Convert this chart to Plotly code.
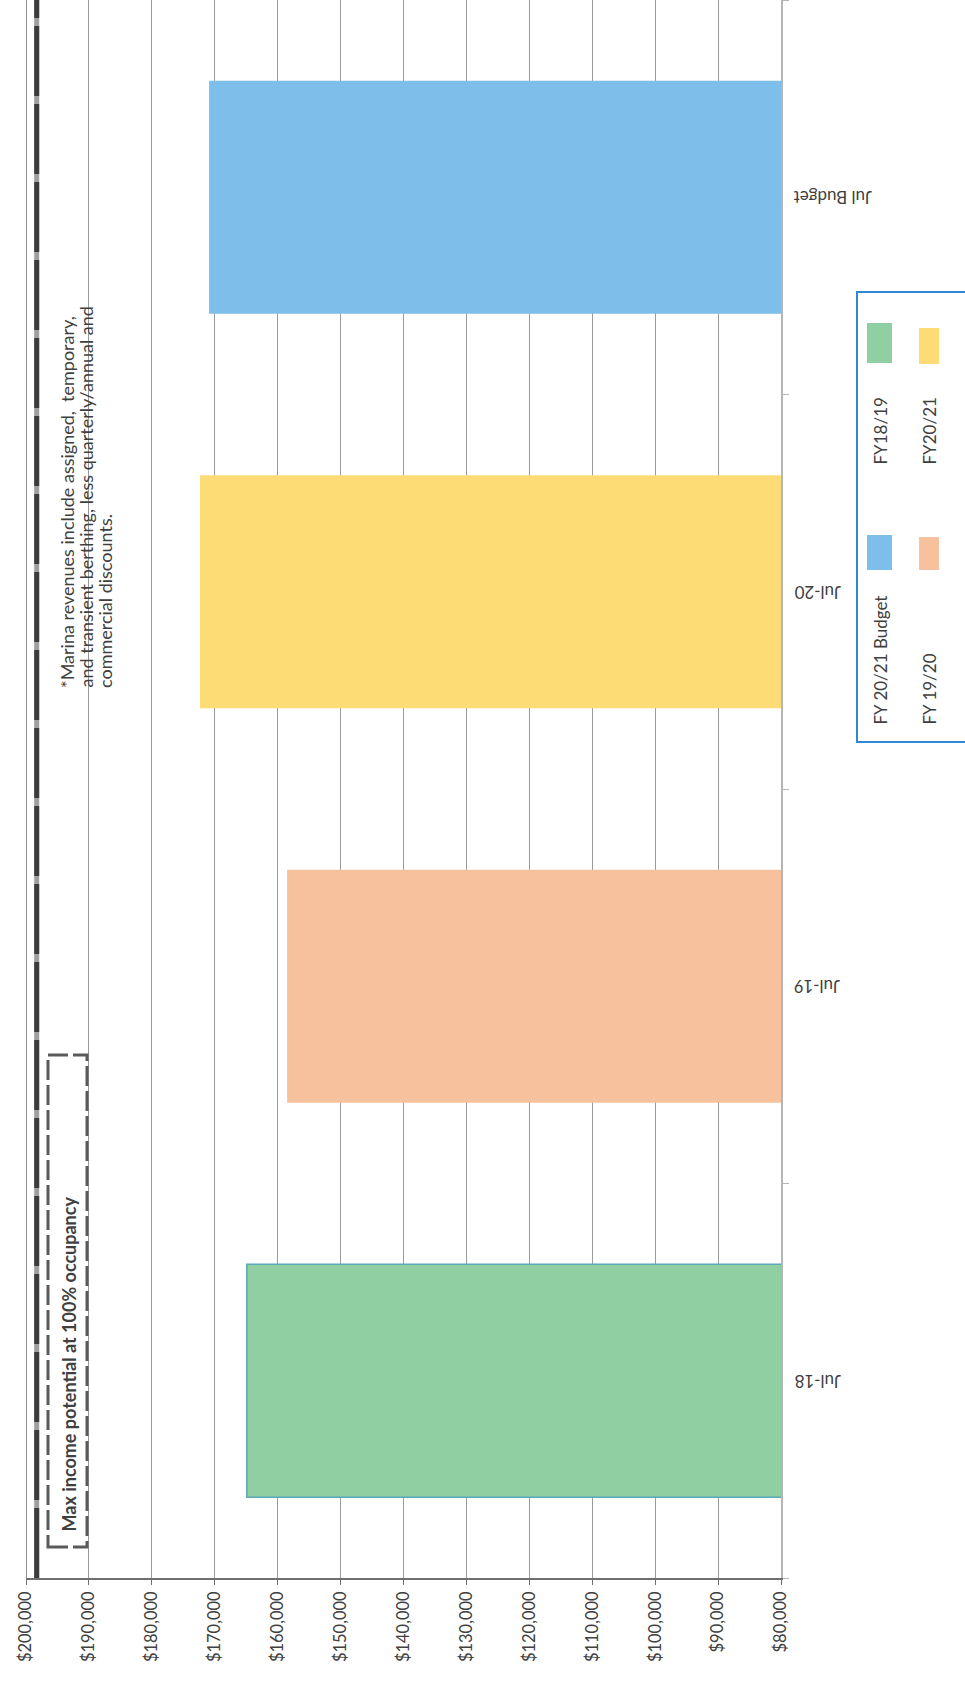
import plotly.graph_objects as go

# ---- data ----
categories = ["Jul-18", "Jul-19", "Jul-20", "Jul Budget"]
values = [164900, 158500, 172350, 170900]
bar_colors = ["#8fcfa1", "#f8c19d", "#fddc76", "#7dbeea"]
series_labels = ["FY18/19", "FY 19/20", "FY20/21", "FY 20/21 Budget"]
tick_values = [200000, 190000, 180000, 170000, 160000, 150000, 140000,
               130000, 120000, 110000, 100000, 90000, 80000]
max_income = 198300
max_note = "Max income potential at 100% occupancy"
footnote_lines = ["*Marina revenues include assigned,  temporary,",
                  "and transient berthing, less quarterly/annual and",
                  "commercial discounts."]

W, H = 965, 1684
L, R, T, B = 26, 184, 0, 106
PW = W - L - R
PH = H - T - B


def px(x):
    return (x - L) / PW


def py(y):
    return (H - B - y) / PH


FONT = "Lato, 'Open Sans', sans-serif"
TXT = "#404040"

fig = go.Figure()
fig.add_trace(go.Bar(
    y=categories, x=values, orientation="h",
    marker=dict(color=bar_colors,
                line=dict(color=["#5aa8b8", "rgba(0,0,0,0)", "rgba(0,0,0,0)", "rgba(0,0,0,0)"], width=1.5)),
    showlegend=False, hoverinfo="skip",
))

shapes = []
# max income potential line
shapes.append(dict(type="line", xref="x", yref="paper", x0=max_income, x1=max_income,
                   y0=0, y1=1, line=dict(color="#a0a0a0", width=5), layer="above"))
shapes.append(dict(type="line", xref="x", yref="paper", x0=max_income, x1=max_income,
                   y0=0, y1=1, line=dict(color="#3c3c3c", width=5, dash="70px,8px"), layer="above"))
# left edge line
shapes.append(dict(type="line", xref="x", yref="paper", x0=200000, x1=200000,
                   y0=0, y1=1, line=dict(color="#6a6a6a", width=1.5), layer="above"))
# max income note box
shapes.append(dict(type="rect", xref="paper", yref="paper",
                   x0=px(48), x1=px(87), y0=py(1547), y1=py(1055),
                   line=dict(color="#5a5a5a", width=3, dash="20px,5px"),
                   fillcolor="white", layer="above"))

# legend box
shapes.append(dict(type="rect", xref="paper", yref="paper",
                   x0=px(857), x1=px(980), y0=py(742), y1=py(292),
                   line=dict(color="#2f8ad6", width=2), fillcolor="white"))
swatches = {
    "FY 20/21 Budget": (867, 892, 535, 570),
    "FY18/19": (867, 892, 323, 363),
    "FY 19/20": (919, 939, 537, 570),
    "FY20/21": (919, 939, 328, 364),
}
for lab, col in zip(series_labels, bar_colors):
    x0, x1, y0, y1 = swatches[lab]
    shapes.append(dict(type="rect", xref="paper", yref="paper",
                       x0=px(x0), x1=px(x1), y0=py(y1), y1=py(y0),
                       line=dict(width=0), fillcolor=col))

annotations = []
annotations.append(dict(xref="paper", yref="paper", x=px(68), y=py(1534),
                        xanchor="center", yanchor="bottom", textangle=-90,
                        text="<b>" + max_note + "</b>", showarrow=False,
                        font=dict(family=FONT, size=18, color=TXT)))
for line, xc in zip(footnote_lines, [67, 86, 105]):
    annotations.append(dict(xref="paper", yref="paper", x=px(xc), y=py(690),
                            xanchor="center", yanchor="bottom", textangle=-90,
                            text=line, showarrow=False,
                            font=dict(family=FONT, size=18, color=TXT)))
legend_text_pos = {
    "FY 20/21 Budget": (880, 727),
    "FY18/19": (880, 467),
    "FY 19/20": (929, 727),
    "FY20/21": (929, 467),
}
for lab in series_labels:
    x, y = legend_text_pos[lab]
    annotations.append(dict(xref="paper", yref="paper", x=px(x), y=py(y),
                            xanchor="center", yanchor="bottom", textangle=-90,
                            text=lab, showarrow=False,
                            font=dict(family=FONT, size=17, color=TXT)))
# category labels (upside down, right of the category axis)
for cat in categories:
    annotations.append(dict(xref="paper", yref="y", x=px(792), y=cat,
                            xanchor="left", yanchor="middle", textangle=180,
                            text=cat, showarrow=False,
                            font=dict(family=FONT, size=17, color=TXT)))

fig.update_layout(
    width=W, height=H,
    margin=dict(l=L, r=R, t=T, b=B, pad=0),
    paper_bgcolor="white", plot_bgcolor="white",
    bargap=0.41,
    shapes=shapes, annotations=annotations,
    showlegend=False,
    xaxis=dict(range=[200000, 80000], tickvals=tick_values, tickformat="$,.0f",
               tickangle=-90, tickfont=dict(family=FONT, size=16.5, color=TXT),
               showgrid=True, gridcolor="#9a9a9a", gridwidth=1,
               showline=True, linecolor="#707070", linewidth=1.5,
               ticks="outside", ticklen=5, tickcolor="#707070",
               zeroline=False, fixedrange=True),
    yaxis=dict(side="right", categoryorder="array", categoryarray=categories,
               showticklabels=False,
               showgrid=False, showline=True, linecolor="#b5b5b5", linewidth=1.5,
               ticks="outside", tickson="boundaries", ticklen=6, tickcolor="#b5b5b5",
               zeroline=False, fixedrange=True),
)

fig.write_html("out.html")
